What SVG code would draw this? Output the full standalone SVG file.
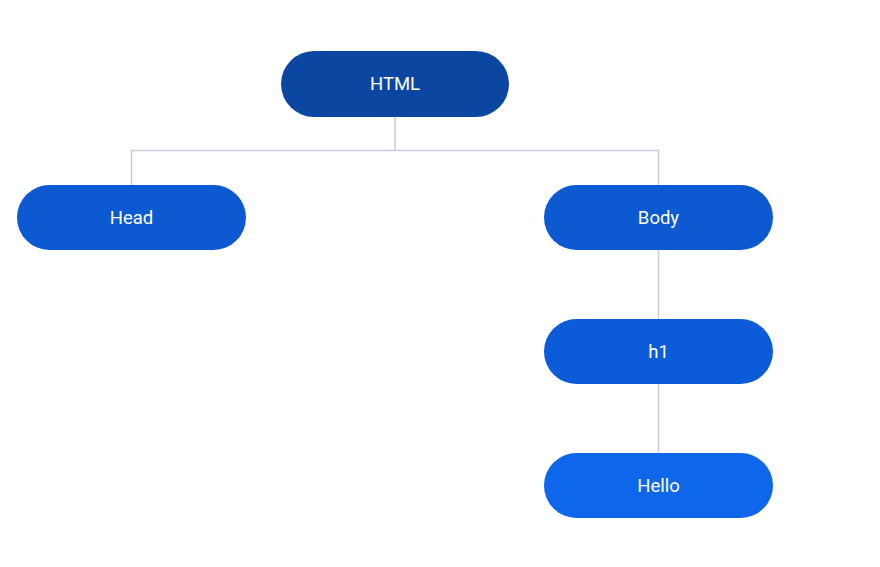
<svg xmlns="http://www.w3.org/2000/svg" width="880" height="567" viewBox="0 0 880 567">
<style>
.lbl{font-family:Roboto,"Liberation Sans",sans-serif;font-size:18.5px;fill:#ffffff;text-anchor:middle;dominant-baseline:central}
.conn{stroke:#C5CEDD;stroke-width:1.5;fill:none}
</style>
<rect width="880" height="567" fill="#ffffff"/>
<g id="connectors">
<path class="conn" d="M395 117 V150.5 M131.5 185 V150.5 H658.5 V185 M658.5 250 V319 M658.5 384 V453"/>
</g>
<g id="html"><rect x="281" y="51" width="228" height="66" rx="33" fill="#0B47A1"/><text class="lbl" x="395" y="84">HTML</text></g>
<g id="head"><rect x="17" y="185" width="229" height="65" rx="32.5" fill="#0C59D2"/><text class="lbl" x="131.5" y="217.5">Head</text></g>
<g id="body"><rect x="544" y="185" width="229" height="65" rx="32.5" fill="#0C59D2"/><text class="lbl" x="658.5" y="217.5">Body</text></g>
<g id="h1"><rect x="544" y="319" width="229" height="65" rx="32.5" fill="#0C5CDA"/><text class="lbl" x="658.5" y="351.5">h1</text></g>
<g id="hello"><rect x="544" y="453" width="229" height="65" rx="32.5" fill="#0E66EA"/><text class="lbl" x="658.5" y="485.5">Hello</text></g>
</svg>
